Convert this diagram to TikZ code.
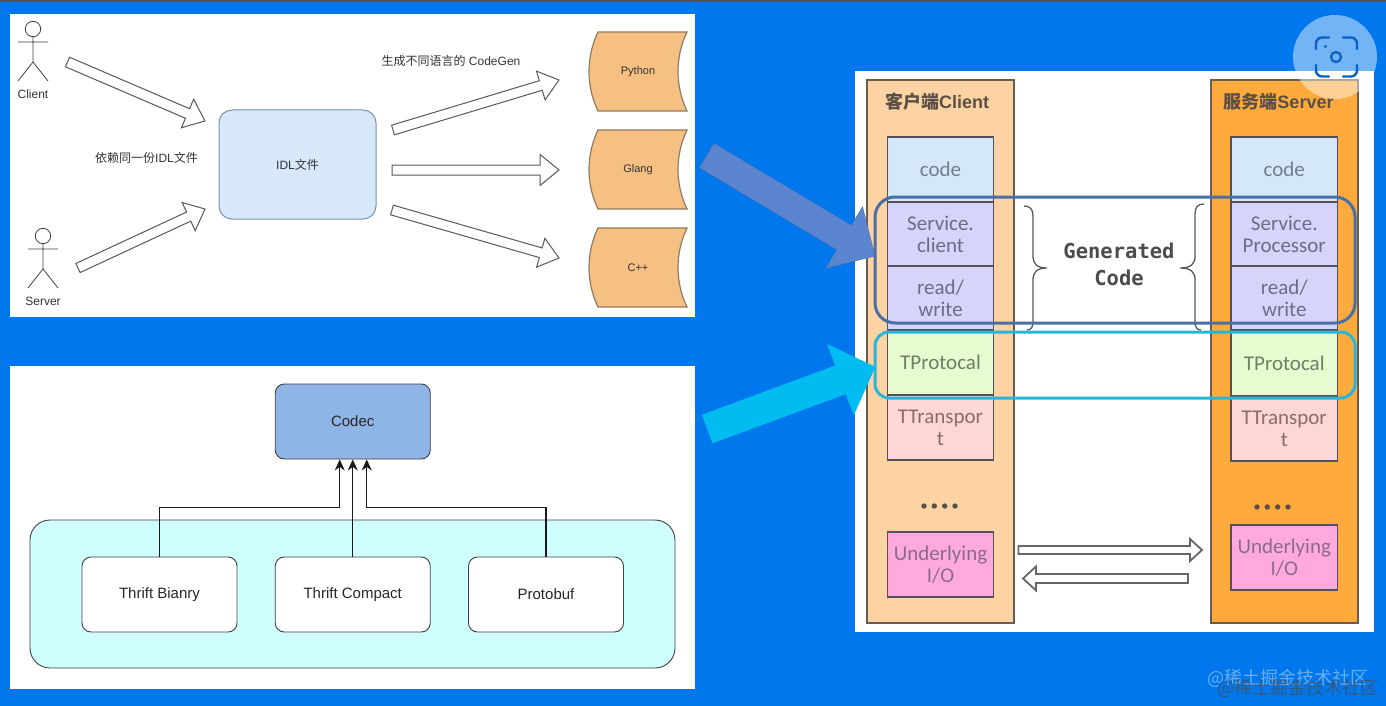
\documentclass[tikz,border=0pt]{standalone}
\usepackage{fontspec}
\setmainfont{Liberation Sans}
\newfontfamily\cjk{Noto Sans CJK SC}
\newfontfamily\stackfont{Carlito}
\newfontfamily\codefont{DejaVu Sans Mono}
\usetikzlibrary{arrows.meta, calc}

\definecolor{pagebg}{HTML}{0077EC}
\definecolor{topbar}{HTML}{4A5560}
\definecolor{idlfill}{HTML}{D6E8FA}
\definecolor{idlline}{HTML}{7A93B0}
\definecolor{langfill}{HTML}{F7C083}
\definecolor{langline}{HTML}{8F7B5E}
\definecolor{codecfill}{HTML}{8FB5E6}
\definecolor{cyanfill}{HTML}{CFFEFF}
\definecolor{clicol}{HTML}{FDD3A3}
\definecolor{srvcol}{HTML}{FFAA3C}
\definecolor{colline}{HTML}{6B5C50}
\definecolor{stackline}{HTML}{55505A}
\definecolor{titletext}{HTML}{5A5045}
\definecolor{codefill}{HTML}{D5E8FA}
\definecolor{codetext}{HTML}{6E7F92}
\definecolor{svcfill}{HTML}{D6D4FA}
\definecolor{svctext}{HTML}{6C6C86}
\definecolor{protofill}{HTML}{E6FBD0}
\definecolor{prototext}{HTML}{6B8065}
\definecolor{transfill}{HTML}{FDD7D3}
\definecolor{transtext}{HTML}{8A6A6A}
\definecolor{iofill}{HTML}{FFA9DC}
\definecolor{iotext}{HTML}{8A6A90}
\definecolor{bigblue}{HTML}{5B85CE}
\definecolor{bigcyan}{HTML}{00BCF0}
\definecolor{genring}{HTML}{4A6FA5}
\definecolor{protoring}{HTML}{27B5DA}
\definecolor{iconblue}{HTML}{0A5FC4}

\tikzset{
	panel/.style = {fill = white, draw = none},
	actor/.style = {draw = black!75, line width = 0.8pt},
	smalltext/.style = {font = \fontsize{12}{14}\selectfont, text = black!80, inner sep = 0pt},
	hollow/.style = {draw = black!65, fill = white, line width = 1pt, line join = miter},
	langbox/.style = {draw = langline, fill = langfill, line width = 1.2pt},
	boxtext/.style = {font = \fontsize{15}{18}\selectfont, text = black!85, inner sep = 0pt},
	codecbox/.style = {draw = black!75, rounded corners = 9pt, minimum width = 155pt, minimum height = 75pt, inner sep = 0pt, line width = 0.9pt, boxtext},
	feedline/.style = {draw = black!90, line width = 1.2pt, -{Stealth[length = 11pt, width = 10pt]}},
	colbox/.style = {draw = colline, line width = 1.4pt},
	stackbox/.style = {draw = stackline, line width = 1.4pt, minimum width = 106.5pt, inner sep = 0pt, align = center, font = \stackfont\fontsize{21}{22}\selectfont},
	coltitle/.style = {font = \bfseries\fontsize{18}{20}\selectfont, text = titletext, inner sep = 0pt},
	gencode/.style = {font = \codefont\bfseries\fontsize{20.5}{27}\selectfont, text = black!70, align = center, inner sep = 0pt},
	bracket/.style = {draw = black!65, line width = 1.3pt},
	exchange/.style = {draw = black!60, fill = white, line width = 1.8pt},
	ring/.style = {line width = 3pt, fill = none}
}

% tail, tip, half shaft, half head, head length
\newcommand{\blockarrow}[6][hollow]{
	\coordinate (headbase) at ($(#3)!#6!(#2)$);
	\draw[#1] ($(#2)!#4!90:(#3)$) -- ($(headbase)!#4!90:(#3)$) -- ($(headbase)!#5!90:(#3)$) -- (#3)
		-- ($(headbase)!#5!-90:(#3)$) -- ($(headbase)!#4!-90:(#3)$) -- ($(#2)!#4!-90:(#3)$) -- cycle;
}

\begin{document}
\begin{tikzpicture}[x = 1pt, y = -1pt]
	\useasboundingbox (0,0) rectangle (1386,706);
	\fill[pagebg] (0,0) rectangle (1386,706);
	\fill[topbar] (0,0) rectangle (1386,2);

	\fill[panel] (10,14) rectangle (695,317);
	\fill[panel] (10,365.5) rectangle (695,688.5);
	\fill[panel] (855,71) rectangle (1374,632);

	\foreach \actorname/\ax/\ay/\actortext in {client/33/29/Client, server/43/236/Server} {
		\draw[actor] (\ax,\ay) circle (7.7pt);
		\draw[actor] (\ax,\ay+7.7) -- ++(0,25.3) -- ++(-15,19) ++(15,-19) -- ++(15,19) (\ax-15,\ay+13) -- ++(30,0);
		\node[smalltext] (\actorname) at (\ax,\ay+65){\actortext};
	}

	\node[draw = idlline, fill = idlfill, rounded corners = 13pt, line width = 1pt, minimum width = 157pt, minimum height = 109pt, smalltext] (idl) at (297.5,164.5){IDL{\cjk 文件}};
	\node[smalltext] (dep) at (146.5,158){{\cjk 依赖同一份}IDL{\cjk 文件}};
	\node[smalltext] (gen) at (451,61){{\cjk 生成不同语言的} CodeGen};

	\foreach \langname/\ytop/\langtext in {python/32/Python, glang/130/Glang, cpp/228/C++} {
		\draw[langbox] (598,\ytop) -- ++(89,0) .. controls ++(-12,25) and ++(-12,-25) .. ++(0,79)
			-- ++(-89,0) .. controls ++(-12,-25) and ++(-12,25) .. ++(0,-79) -- cycle;
		\node[smalltext, font = \fontsize{11}{13}\selectfont] (\langname) at (638,\ytop+39.5){\langtext};
	}

	\coordinate (clientTail) at (67.5,62);
	\coordinate (clientTip) at (205,121);
	\coordinate (serverTail) at (78,268);
	\coordinate (serverTip) at (205,209);
	\coordinate (pyTail) at (393,130);
	\coordinate (pyTip) at (559,80);
	\coordinate (goTail) at (392,170);
	\coordinate (goTip) at (559,170);
	\coordinate (cppTail) at (392,210);
	\coordinate (cppTip) at (559,258);
	\blockarrow{clientTail}{clientTip}{5.2pt}{15.5pt}{19pt}
	\blockarrow{serverTail}{serverTip}{5pt}{15.5pt}{18pt}
	\blockarrow{pyTail}{pyTip}{5pt}{15pt}{19pt}
	\blockarrow{goTail}{goTip}{5pt}{15.5pt}{19pt}
	\blockarrow{cppTail}{cppTip}{5pt}{15pt}{19pt}

	\node[draw = black!75, fill = cyanfill, rounded corners = 20pt, minimum width = 645pt, minimum height = 148pt, line width = 0.9pt] (family) at (352.5,594){};
	\node[codecbox, fill = codecfill] (codec) at (352.75,421.5){Codec};
	\node[codecbox, fill = white] (binary) at (159.5,594.5){Thrift Bianry};
	\node[codecbox, fill = white] (compact) at (352.75,594.5){Thrift Compact};
	\node[codecbox, fill = white] (protobuf) at (546,594.5){Protobuf};

	\draw[feedline] (binary.north) -- ++(0,-49) -| ([xshift = -13pt]codec.south);
	\draw[feedline] (compact.north) -- (codec.south);
	\draw[feedline] (protobuf.north) -- ++(0,-49) -| ([xshift = 14pt]codec.south);

	\draw[colbox, fill = clicol] (867,80) rectangle (1014,623);
	\draw[colbox, fill = srvcol] (1211,80) rectangle (1358,623);
	\node[coltitle] (cliTitle) at (937,102){{\cjk 客户端}Client};
	\node[coltitle] (srvTitle) at (1278.5,102){{\cjk 服务端}Server};

	\node[stackbox, fill = codefill, minimum height = 65pt, text = codetext] (cliCode) at (940.5,169.5){code};
	\node[stackbox, fill = svcfill, minimum height = 64pt, text = svctext] (cliService) at (940.5,234){Service.\\client};
	\node[stackbox, fill = svcfill, minimum height = 64pt, text = svctext] (cliRead) at (940.5,298){read/\\write};
	\node[stackbox, fill = protofill, minimum height = 65pt, text = prototext] (cliProto) at (940.5,362.5){TProtocal};
	\node[stackbox, fill = transfill, minimum height = 65pt, text = transtext] (cliTrans) at (940.5,427.5){TTranspor\\t};
	\node[stackbox, fill = iofill, minimum height = 65pt, text = iotext] (cliIO) at (940.5,564.5){Underlying\\I/O};

	\node[stackbox, fill = codefill, minimum height = 65pt, text = codetext] (srvCode) at (1284.25,169.5){code};
	\node[stackbox, fill = svcfill, minimum height = 64pt, text = svctext] (srvService) at (1284.25,234){Service.\\Processor};
	\node[stackbox, fill = svcfill, minimum height = 64pt, text = svctext] (srvRead) at (1284.25,298){read/\\write};
	\node[stackbox, fill = protofill, minimum height = 66pt, text = prototext] (srvProto) at (1284.25,363){TProtocal};
	\node[stackbox, fill = transfill, minimum height = 65pt, text = transtext] (srvTrans) at (1284.25,428.5){TTranspor\\t};
	\node[stackbox, fill = iofill, minimum height = 65pt, text = iotext] (srvIO) at (1284.25,557.5){Underlying\\I/O};

	\foreach \dx in {-15.5,-5.2,5.2,15.5} {
		\fill[titletext] (939.5+\dx,506) circle (2.7pt);
		\fill[titletext] (1272.5+\dx,507) circle (2.7pt);
	}

	\draw[bracket] (1024,206) .. controls (1030,206) and (1033,209) .. (1033,216) -- (1033,256)
		.. controls (1033,264) and (1037,268) .. (1047,268) .. controls (1037,268) and (1033,272) .. (1033,280)
		-- (1033,322) .. controls (1033,327) and (1031,330) .. (1027,330);
	\draw[bracket] (1204,204) .. controls (1198,204) and (1195,207) .. (1195,214) -- (1195,256)
		.. controls (1195,264) and (1191,268) .. (1180,268) .. controls (1191,268) and (1195,272) .. (1195,280)
		-- (1195,322) .. controls (1195,327) and (1197,330) .. (1201,330);
	\node[gencode] (generated) at (1119,264.5){Generated\\Code};

	\coordinate (sendTail) at (1018.5,550);
	\coordinate (sendTip) at (1202,550);
	\coordinate (recvTail) at (1188,578.5);
	\coordinate (recvTip) at (1023,578.5);
	\blockarrow[exchange]{sendTail}{sendTip}{4pt}{11pt}{12pt}
	\blockarrow[exchange]{recvTail}{recvTip}{4.5pt}{12pt}{13pt}

	\coordinate (blueTail) at (706.7,155.5);
	\coordinate (blueTip) at (875,256);
	\coordinate (cyanTail) at (707.5,429);
	\coordinate (cyanTip) at (875,367);
	\blockarrow[fill = bigblue, draw = bigblue!85!black]{blueTail}{blueTip}{14.2pt}{36pt}{36pt}
	\blockarrow[fill = bigcyan, draw = bigcyan]{cyanTail}{cyanTip}{15pt}{37.5pt}{36.6pt}

	\draw[ring, draw = genring, rounded corners = 20pt] (875,197) rectangle (1355,323);
	\draw[ring, draw = protoring, rounded corners = 14pt] (875,332) rectangle (1355,398);

	\fill[white, opacity = 0.45] (1335,57) circle (42pt);
	\draw[draw = iconblue, line width = 2.4pt, line cap = round, rounded corners = 6pt]
		(1316,49) -- (1316,37.5) -- (1329,37.5) (1343,37.5) -- (1357,37.5) -- (1357,49)
		(1357,65) -- (1357,76.5) -- (1343,76.5) (1329,76.5) -- (1316,76.5) -- (1316,65);
	\draw[draw = iconblue, line width = 2.2pt] (1336,57) circle (5pt);
	\fill[iconblue] (1325.5,46.5) circle (1.6pt);

	\node[font = \cjk\fontsize{18}{20}\selectfont, text = white, opacity = 0.4, inner sep = 0pt] (markA) at (1288,678){@稀土掘金技术社区};
	\node[font = \cjk\fontsize{18}{20}\selectfont, text = black!70, opacity = 0.65, inner sep = 0pt] (markB) at (1298,688){@稀土掘金技术社区};
\end{tikzpicture}
\end{document}
